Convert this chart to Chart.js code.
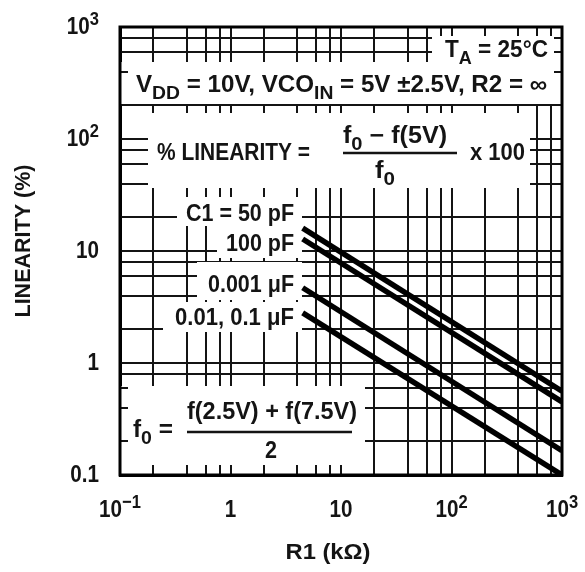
<!DOCTYPE html>
<html>
<head>
<meta charset="utf-8">
<script src="https://cdn.jsdelivr.net/npm/chart.js@4/dist/chart.umd.min.js"></script>
<style>
  html, body { margin: 0; padding: 0; background: #fff; }
  #wrap { width: 585px; height: 572px; position: relative; }
</style>
</head>
<body>
<div id="wrap"><canvas id="linChart"></canvas></div>
<script>
// R1 (kΩ) at both ends of every curve
const r1Values = [4.5, 1000];
// % linearity, one array per C1
const lin50pF = [16, 0.56];
const lin100pF = [12.8, 0.45];
const lin001uF = [4.7, 0.165];
const lin01uF = [2.8, 0.1];
const curveNames = ['C1 = 50 pF', '100 pF', '0.001 μF', '0.01, 0.1 μF'];

// grid lines: 1, 2, 4, 6, 8 in each decade
const xGrid = [0.1, 0.2, 0.4, 0.6, 0.8, 1, 2, 4, 6, 8, 10, 20, 40, 60, 80, 100, 200, 400, 600, 800, 1000];
const yGrid = [0.1, 0.2, 0.4, 0.6, 0.8, 1, 2, 4, 6, 8, 10, 20, 40, 60, 80, 100, 200, 400, 600, 800, 1000];

// tick labels ("^{..}" = superscript)
const xTickValues = [0.1, 1, 10, 100, 1000];
const xTickLabels = ['10^{−1}', '1', '10', '10^{2}', '10^{3}'];
const yTickValues = [0.1, 1, 10, 100, 1000];
const yTickLabels = ['0.1', '1', '10', '10^{2}', '10^{3}'];

const FONT = '"Liberation Sans", Arial, sans-serif';
const INK = '#141414';

// white panels the printed notes sit on (they hide the grid)
const panels = [
  [432, 27, 563, 64],
  [120, 62, 563, 104],
  [148, 113, 530, 188],
  [177, 197, 302, 226],
  [217, 226, 302, 258],
  [197, 262, 302, 300],
  [163, 302, 302, 332],
  [120, 386, 365, 475]
];

// notes: text, x, baseline y, align, width
const notes = [
  ['T_{A} = 25°C', 548, 57, 'right', 103],
  ['V_{DD} = 10V, VCO_{IN} = 5V ±2.5V, R2 = ∞', 136, 92, 'left', 411],
  ['% LINEARITY =', 157, 160, 'left', 153],
  ['f_{0} − f(5V)', 395, 143, 'center', 104],
  ['f_{0}', 385, 178, 'center', 20],
  ['x 100', 470, 160, 'left', 55],
  [curveNames[0], 294, 221, 'right', 108],
  [curveNames[1], 294, 251, 'right', 68],
  [curveNames[2], 294, 292, 'right', 86],
  [curveNames[3], 294, 325, 'right', 119],
  ['f_{0} =', 133, 437, 'left', 40],
  ['f(2.5V) + f(7.5V)', 272, 419, 'center', 170],
  ['2', 271, 458, 'center', 12]
];
const fractionBars = [[343, 457, 153], [187, 352, 432]];

function parseRich(str) {
  const parts = [];
  const re = /([_^])\{([^}]*)\}/g;
  let last = 0, m;
  while ((m = re.exec(str))) {
    if (m.index > last) parts.push({ t: str.slice(last, m.index), k: '' });
    parts.push({ t: m[2], k: m[1] });
    last = re.lastIndex;
  }
  if (last < str.length) parts.push({ t: str.slice(last), k: '' });
  return parts;
}

function drawRich(ctx, str, x, y, size, align, width) {
  const parts = parseRich(str);
  let total = 0;
  parts.forEach(p => {
    p.size = p.k ? size * 0.8 : size;
    p.dy = p.k === '_' ? size * 0.3 : (p.k === '^' ? -size * 0.36 : 0);
    ctx.font = 'bold ' + p.size + 'px ' + FONT;
    p.w = ctx.measureText(p.t).width;
    total += p.w;
  });
  const sx = width ? width / total : 0.86;
  const drawn = total * sx;
  const x0 = align === 'center' ? x - drawn / 2 : (align === 'right' ? x - drawn : x);
  ctx.save();
  ctx.translate(x0, y);
  ctx.scale(sx, 1);
  ctx.textAlign = 'left';
  ctx.textBaseline = 'alphabetic';
  ctx.fillStyle = INK;
  let cx = 0;
  parts.forEach(p => {
    ctx.font = 'bold ' + p.size + 'px ' + FONT;
    ctx.fillText(p.t, cx, p.dy);
    cx += p.w;
  });
  ctx.restore();
}

const overlay = {
  id: 'overlay',
  beforeDatasetsDraw(chart) {
    const ctx = chart.ctx;
    const a = chart.chartArea;
    const xs = chart.scales.x, ys = chart.scales.y;
    ctx.save();
    ctx.fillStyle = '#fff';
    panels.forEach(b => ctx.fillRect(b[0], b[1], b[2] - b[0], b[3] - b[1]));

    // short ticks pointing inwards on all four sides
    ctx.strokeStyle = INK;
    ctx.lineWidth = 2;
    ctx.beginPath();
    xGrid.forEach(v => {
      const px = Math.round(xs.getPixelForValue(v));
      ctx.moveTo(px, a.top); ctx.lineTo(px, a.top + 9);
      ctx.moveTo(px, a.bottom); ctx.lineTo(px, a.bottom - 10);
    });
    yGrid.forEach(v => {
      const py = Math.round(ys.getPixelForValue(v));
      ctx.moveTo(a.left, py); ctx.lineTo(a.left + 8, py);
      ctx.moveTo(a.right, py); ctx.lineTo(a.right - 8, py);
    });
    ctx.stroke();

    ctx.lineWidth = 3;
    ctx.strokeStyle = '#000';
    ctx.strokeRect(a.left, a.top, a.right - a.left, a.bottom - a.top);

    notes.forEach(n => drawRich(ctx, n[0], n[1], n[2], 23, n[3], n[4]));
    ctx.lineWidth = 2.5;
    ctx.strokeStyle = INK;
    fractionBars.forEach(f => {
      ctx.beginPath(); ctx.moveTo(f[0], f[2]); ctx.lineTo(f[1], f[2]); ctx.stroke();
    });
    ctx.restore();
  },
  afterDraw(chart) {
    const ctx = chart.ctx;
    const xs = chart.scales.x, ys = chart.scales.y;
    xTickValues.forEach((v, i) => {
      drawRich(ctx, xTickLabels[i], xs.getPixelForValue(v), 517, 24, 'center');
    });
    yTickValues.forEach((v, i) => {
      drawRich(ctx, yTickLabels[i], 99, ys.getPixelForValue(v) + 7, 24, 'right');
    });
    // axis titles
    drawRich(ctx, 'R1 (kΩ)', 328, 559, 22, 'center', 85);
    ctx.save();
    ctx.translate(22, 241);
    ctx.rotate(-Math.PI / 2);
    drawRich(ctx, 'LINEARITY (%)', 0, 8, 22, 'center', 153);
    ctx.restore();
  }
};

function curve(values) {
  return {
    data: r1Values.map((x, i) => ({ x: x, y: values[i] })),
    borderColor: '#000',
    borderWidth: 5.5,
    pointRadius: 0,
    tension: 0,
    fill: false
  };
}

const gridOpts = {
  color: INK,
  lineWidth: 2,
  drawTicks: false
};

new Chart(document.getElementById('linChart'), {
  type: 'line',
  data: {
    datasets: [curve(lin50pF), curve(lin100pF), curve(lin001uF), curve(lin01uF)]
  },
  options: {
    responsive: true,
    maintainAspectRatio: false,
    animation: false,
    layout: { padding: { top: 27, right: 23, left: 0, bottom: 0 } },
    plugins: { legend: { display: false }, tooltip: { enabled: false } },
    scales: {
      x: {
        type: 'logarithmic',
        min: 0.1,
        max: 1000,
        afterBuildTicks: s => { s.ticks = xGrid.map(v => ({ value: v })); },
        afterFit: s => { s.height = 97; },
        ticks: { display: false },
        grid: gridOpts,
        border: { display: true, color: '#000', width: 3 }
      },
      y: {
        type: 'logarithmic',
        min: 0.1,
        max: 1000,
        afterBuildTicks: s => { s.ticks = yGrid.map(v => ({ value: v })); },
        afterFit: s => { s.width = 120; },
        ticks: { display: false },
        grid: gridOpts,
        border: { display: true, color: '#000', width: 3 }
      }
    }
  },
  plugins: [overlay]
});
</script>
</body>
</html>
